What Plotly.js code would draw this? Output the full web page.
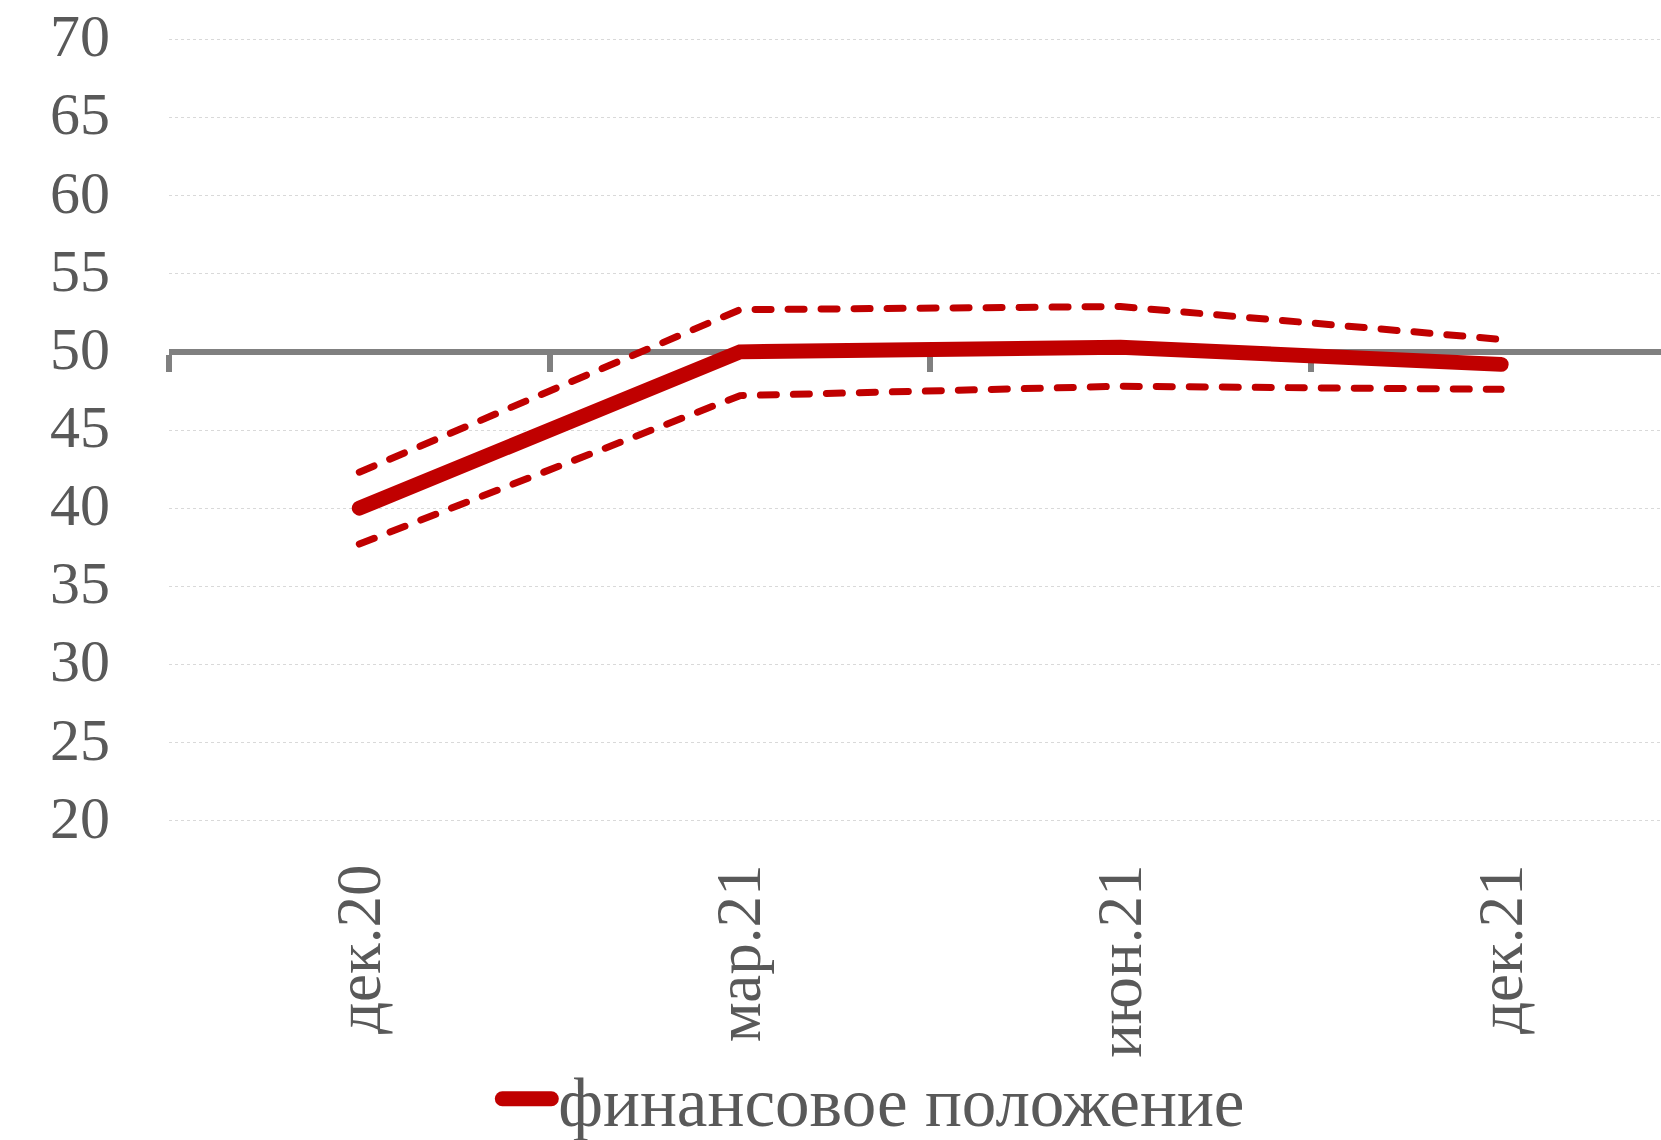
<!DOCTYPE html>
<html>
<head>
<meta charset="utf-8">
<script src="https://cdn.plot.ly/plotly-3.0.1.min.js"></script>
<style>
  html, body { margin: 0; padding: 0; background: #fff; }
  #chart { width: 1661px; height: 1140px; }
  .scatterlayer path.js-line, .legendlines path { stroke-linecap: round; }
  .legendlines path { stroke-width: 15px !important; d: path("M8,0h49"); }
  .legendtext { transform: translateX(24px); }
  g.scrollbox { clip-path: none !important; }
</style>
</head>
<body>
<div id="chart"></div>
<script>
// ---- data ----
const categories = ["дек.20", "мар.21", "июн.21", "дек.21"];
const mainValues  = [40.0, 50.0, 50.3, 49.2];
const upperValues = [42.3, 52.7, 52.9, 50.8];
const lowerValues = [37.7, 47.2, 47.8, 47.6];
const seriesName = "финансовое положение";
const yTicks = [20, 25, 30, 35, 40, 45, 50, 55, 60, 65, 70];
const crossValue = 50;

// ---- style ----
const red = "#C00000";
const grey = "#595959";
const fontFam = "'Liberation Serif', 'DejaVu Serif', serif";
const yMin = 20, yMax = 70, pad = 0.15;
const xRange = [-0.5, 3.42];
const idx = categories.map((c, i) => i);

const traces = [
  { x: idx, y: upperValues, type: "scatter", mode: "lines", showlegend: false, hoverinfo: "skip",
    line: { color: red, width: 7, dash: "16px,17px" } },
  { x: idx, y: lowerValues, type: "scatter", mode: "lines", showlegend: false, hoverinfo: "skip",
    line: { color: red, width: 7, dash: "16px,17px" } },
  { x: idx, y: mainValues, type: "scatter", mode: "lines", name: seriesName,
    line: { color: red, width: 15 } },
  // carrier for the crossing axis at 50
  { x: idx, y: mainValues, xaxis: "x2", type: "scatter", mode: "lines", showlegend: false,
    hoverinfo: "skip", opacity: 0, line: { width: 0 } }
];

const layout = {
  width: 1661, height: 1140,
  margin: { l: 169, r: 0, t: 37, b: 317, pad: 0 },
  paper_bgcolor: "#fff", plot_bgcolor: "#fff",
  font: { family: fontFam, color: grey, size: 60 },
  showlegend: true,
  legend: {
    orientation: "h", xref: "container", yref: "container",
    x: 0.2976, xanchor: "left", y: 0.036, yanchor: "middle",
    font: { family: fontFam, size: 69, color: grey },
    bgcolor: "rgba(0,0,0,0)"
  },
  xaxis: {
    type: "linear", range: xRange, tickmode: "array",
    tickvals: idx, ticktext: categories, tickangle: -90,
    showline: false, ticks: "", showgrid: false, zeroline: false,
    tickfont: { family: fontFam, size: 63, color: grey },
    ticklabelstandoff: 28
  },
  xaxis2: {
    type: "linear", range: xRange, overlaying: "x", anchor: "free",
    position: (crossValue - yMin + pad) / (yMax - yMin + 2 * pad),
    tickmode: "array", tickvals: idx.map(i => i - 0.5),
    showticklabels: false, showline: true, linecolor: "#808080", linewidth: 6,
    ticks: "outside", ticklen: 17, tickwidth: 6, tickcolor: "#808080",
    showgrid: false, zeroline: false, layer: "below traces"
  },
  yaxis: {
    range: [yMin - pad, yMax + pad], tickmode: "array", tickvals: yTicks,
    showline: false, ticks: "", zeroline: false,
    showgrid: true, gridcolor: "#d9d9d9", gridwidth: 1, griddash: "dot",
    tickfont: { family: fontFam, size: 60, color: grey },
    ticklabelstandoff: 58, ticklabelshift: -4
  }
};

Plotly.newPlot("chart", traces, layout, { displayModeBar: false, staticPlot: true });
</script>
</body>
</html>
